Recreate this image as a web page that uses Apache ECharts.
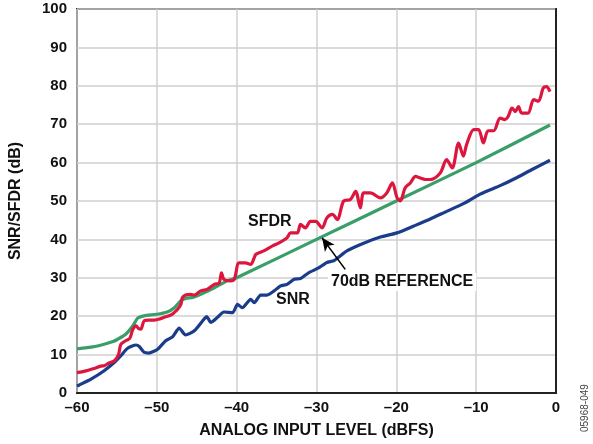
<!DOCTYPE html>
<html><head><meta charset="utf-8">
<script src="https://cdn.jsdelivr.net/npm/echarts@6/dist/echarts.min.js"></script>
<style>html,body{margin:0;padding:0;background:#fff}#c{width:593px;height:444px}</style>
</head><body><div id="c"></div>
<script>
var xTicks = [-60, -50, -40, -30, -20, -10, 0];
var yTicks = [0, 10, 20, 30, 40, 50, 60, 70, 80, 90, 100];

var sfdrX = [-60,-59,-58,-57,-56.6,-56,-55.3,-54.8,-54.5,-53.9,-53.4,-53,-52.6,-52.3,-52,-51.6,-51,-50.3,-49.6,-49.1,-48.25,-47.8,-47.4,-47,-46.8,-46.4,-45.8,-45.3,-44.5,-43.7,-42.8,-42.2,-41.9,-41.6,-40.75,-40.3,-39.7,-38.9,-38.25,-37.8,-37.6,-36.6,-35.5,-34.7,-33.7,-33.25,-32.4,-32,-31.4,-30.75,-30.1,-29.3,-28.7,-28,-27.4,-26.6,-25.75,-25.1,-24.5,-24.1,-23.25,-22,-21.2,-20.5,-19.9,-19.5,-18.9,-18.25,-17.6,-17,-16.4,-15.75,-14.5,-13.7,-13,-12.2,-11.6,-11.2,-10.3,-9.7,-9.1,-8.5,-7.8,-7,-6.4,-6,-5.5,-5.1,-4.7,-4.3,-3.5,-2.8,-2.2,-1.6,-1.2,-0.75];
var sfdrY = [5.3,5.7,6.3,7,7.1,7.8,8.4,10,12.7,13.6,14.2,16.6,17.5,16.8,16.6,18.8,19,19,19.3,19.7,20.3,21,21.8,23,24.8,25.5,25.7,25.5,26.6,27,28.3,28.6,31.3,29.6,29.2,29.6,33.9,33.9,33.5,35.2,36.1,37,38.3,39.1,40.4,41.7,41.7,43.9,43,44.7,44.7,43,45.6,46.5,45.2,50,50.4,52.5,48.2,52.1,52.1,50.8,52.1,54.7,50.8,50,53.4,54.7,56.4,56,55.6,55.6,57.3,60.8,58.6,65.1,61.7,64.7,68.6,68.6,65.1,68.3,68.3,71.6,71.2,72,74.2,73.3,74.6,72.9,72.9,76.4,76,79.4,79.8,78.5];

var refX = [-60,-58,-56.6,-55.5,-54.9,-53.9,-53,-52.4,-51.6,-50,-48.7,-47.8,-47,-46.4,-45.5,-44.5,-42.8,-41.2,-40,-30,-20,-10,-0.75];
var refY = [11.5,12,12.7,13.4,14,15.3,17.5,19.5,20.1,20.5,21.1,22.2,24,24.6,24.9,25.7,27.4,29.2,30,40,50,60,69.8];

var snrX = [-60,-59.7,-58.25,-56.6,-55.3,-54.5,-53.7,-52.6,-52.2,-51.6,-51,-49.9,-48.9,-48,-47.2,-46.4,-45.3,-44.1,-43.75,-43.25,-42.4,-41.6,-40.5,-39.9,-39.3,-38.25,-37.8,-37,-36.2,-35.3,-34.5,-33.7,-32.8,-32,-31,-29.8,-28.7,-27.8,-26.2,-24.1,-22,-19.9,-17.8,-15.75,-13.7,-11.6,-9.5,-7,-5,-3,-0.75];
var snrY = [1.8,2.1,3.6,5.8,8,9.7,11.6,12.5,12.1,10.6,10.4,11.4,13.6,14.7,16.9,15.1,16.2,19.2,19.9,18.4,19.7,21.1,20.9,23.1,22.2,24.4,23.5,25.5,25.5,26.6,27.9,28.3,29.6,29.8,31.3,32.5,34,34.5,37,39,40.6,41.7,43.5,45.3,47.3,49.3,51.8,54,56,58.2,60.6];

function pairs(xs, ys){ return xs.map(function(x,i){return [x, ys[i]];}); }
function dash(v){ return v < 0 ? '\u2013' + (-v) : String(v); }

var FONT = 'Liberation Sans, Arial, sans-serif';
var chart = echarts.init(document.getElementById('c'), null, {renderer:'canvas'});
chart.setOption({
  animation: false,
  backgroundColor: '#fff',
  grid: {left: 76, right: 37, top: 9, bottom: 50, show: true, borderColor: '#222', borderWidth: 2, backgroundColor: 'transparent'},
  xAxis: {
    type: 'value', min: xTicks[0], max: xTicks[xTicks.length-1], interval: 10,
    axisLine: {show: true, lineStyle: {color: '#222', width: 2}},
    axisTick: {show: false},
    splitLine: {show: true, lineStyle: {color: '#cfcfcf', width: 1.5}},
    axisLabel: {formatter: dash, color: '#111', fontSize: 15, fontWeight: 'bold', fontFamily: FONT, margin: 7},
    name: 'ANALOG INPUT LEVEL (dBFS)', nameLocation: 'middle', nameGap: 30,
    nameTextStyle: {color: '#111', fontSize: 16, fontWeight: 'bold', fontFamily: FONT}
  },
  yAxis: {
    type: 'value', min: yTicks[0], max: yTicks[yTicks.length-1], interval: 10,
    axisLine: {show: true, lineStyle: {color: '#222', width: 2}},
    axisTick: {show: false},
    splitLine: {show: true, lineStyle: {color: '#cfcfcf', width: 1.5}},
    axisLabel: {color: '#111', fontSize: 15, fontWeight: 'bold', fontFamily: FONT, margin: 10},
    name: 'SNR/SFDR (dB)', nameLocation: 'middle', nameGap: 53,
    nameTextStyle: {color: '#111', fontSize: 16, fontWeight: 'bold', fontFamily: FONT}
  },
  series: [
    {type: 'line', name: 'REF', data: pairs(refX, refY), showSymbol: false, smooth: 0.2,
     lineStyle: {color: '#3a9e68', width: 3.2}, z: 3,
     markLine: {silent: true, symbolSize: [9, 13], animation: false,
       lineStyle: {color: '#000', width: 1.6, type: 'solid'}, label: {show: false},
       data: [[{coord: [-26.4, 32.2], symbol: 'none'}, {coord: [-29.3, 40.4], symbol: 'arrow'}]]}},
    {type: 'line', name: 'SNR', data: pairs(snrX, snrY), showSymbol: false, smooth: 0.2,
     lineStyle: {color: '#1b3c8a', width: 3.2}, z: 4},
    {type: 'line', name: 'SFDR', data: pairs(sfdrX, sfdrY), showSymbol: false, smooth: 0.3,
     lineStyle: {color: '#dc163c', width: 3.2}, z: 5}
  ],
  graphic: [
    {type: 'text', left: 248, top: 214, z: 100, style: {text: 'SFDR', font: 'bold 16px ' + FONT, fill: '#111'}},
    {type: 'text', left: 276, top: 292, z: 100, style: {text: 'SNR', font: 'bold 16px ' + FONT, fill: '#111'}},
    {type: 'text', left: 328, top: 273, z: 100, style: {text: '70dB REFERENCE', font: 'bold 16px ' + FONT, fill: '#111', backgroundColor: '#fff', padding: [1, 3, 1, 3]}},
    {type: 'text', x: 580, y: 432, rotation: Math.PI/2, z: 100, style: {text: '05968-049', font: '10px ' + FONT, fill: '#444'}}
  ]
});
</script></body></html>
